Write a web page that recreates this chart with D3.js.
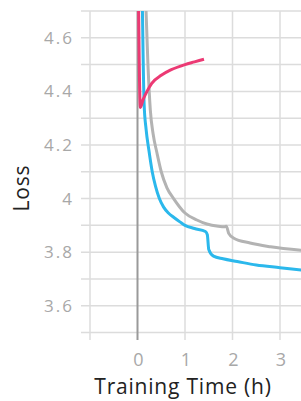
<!DOCTYPE html>
<html>
<head>
<meta charset="utf-8">
<script src="https://cdn.jsdelivr.net/npm/d3@7"></script>
<style>
body{margin:0;background:#fff}
text{font-family:"Open Sans",sans-serif}
</style>
</head>
<body>
<script>
// tick values
var xTicks=[0,1,2,3]
var xGrid=[-1,0,1,2,3]
var yTicks=[3.6,3.8,4,4.2,4.4,4.6]
var yGrid=[3.5,3.6,3.7,3.8,3.9,4,4.1,4.2,4.3,4.4,4.5,4.6,4.7]

// series: hours, loss
var redHours=[0.02,0.06,0.12,0.2,0.3,0.5,0.7,1.0,1.2,1.4]
var redLoss=[4.75,4.34,4.37,4.40,4.43,4.46,4.48,4.50,4.51,4.52]
var blueHours=[0.10,0.14,0.18,0.24,0.31,0.38,0.46,0.55,0.65,0.76,0.9,1.0,1.2,1.43,1.47,1.5,1.6,1.8,2.1,2.5,3.0,3.5]
var blueLoss=[4.75,4.35,4.26,4.18,4.10,4.045,4.0,3.968,3.946,3.93,3.912,3.90,3.888,3.877,3.865,3.81,3.785,3.775,3.765,3.752,3.742,3.732]
var grayHours=[0.17,0.22,0.27,0.33,0.41,0.5,0.62,0.76,1.0,1.25,1.46,1.7,1.84,1.87,1.92,2.02,2.37,2.8,3.5]
var grayLoss=[4.75,4.50,4.33,4.24,4.17,4.10,4.04,4.0,3.946,3.92,3.905,3.897,3.895,3.897,3.87,3.853,3.834,3.82,3.806]

var W=301,H=401
var x=d3.scaleLinear().domain([-1,3]).range([90,280])
var y=d3.scaleLinear().domain([3.5,4.7]).range([332.5,11])

var svg=d3.select("body").append("svg").attr("width",W).attr("height",H)

svg.append("clipPath").attr("id","clip").append("rect")
  .attr("x",90).attr("y",11).attr("width",W-90).attr("height",332.5-11)

// grid
svg.append("g").selectAll("line").data(yGrid).join("line")
  .attr("x1",81).attr("x2",W)
  .attr("y1",d=>y(d)).attr("y2",d=>y(d))
  .attr("stroke","#dcdcdc").attr("stroke-width",1.5)

svg.append("g").selectAll("line").data(xGrid).join("line")
  .attr("x1",d=>x(d)).attr("x2",d=>x(d))
  .attr("y1",y(4.7)).attr("y2",340)
  .attr("stroke",d=>d==0?"#9a9a9a":"#dcdcdc")
  .attr("stroke-width",d=>d==0?2:1.5)

// tick labels
svg.append("g").selectAll("text").data(yTicks).join("text")
  .attr("x",74).attr("y",d=>y(d)+6)
  .attr("text-anchor","end")
  .attr("font-size",17).attr("letter-spacing",2).attr("fill","#a8a8a8")
  .text(d=>d==4?"4":d3.format(".1f")(d))

svg.append("g").selectAll("text").data(xTicks).join("text")
  .attr("x",d=>x(d)+1).attr("y",366)
  .attr("text-anchor","middle")
  .attr("font-size",18).attr("fill","#a8a8a8")
  .text(d=>d)

// axis titles
svg.append("text").attr("x",183).attr("y",394)
  .attr("text-anchor","middle").attr("font-size",21).attr("letter-spacing",0.8).attr("fill","#222")
  .text("Training Time (h)")

svg.append("text").attr("transform","translate(29,188) rotate(-90)")
  .attr("text-anchor","middle").attr("font-size",21).attr("letter-spacing",0.8).attr("fill","#222")
  .text("Loss")

// lines
var line=d3.line().x(d=>x(d[0])).y(d=>y(d[1])).curve(d3.curveMonotoneX)
var plot=svg.append("g").attr("clip-path","url(#clip)")

function draw(hours,loss,color){
  plot.append("path")
    .datum(hours.map((h,i)=>[h,loss[i]]))
    .attr("d",line)
    .attr("fill","none").attr("stroke",color).attr("stroke-width",3)
    .attr("stroke-linejoin","round")
}
draw(grayHours,grayLoss,"#b3b3b3")
draw(blueHours,blueLoss,"#2bb8ec")
draw(redHours,redLoss,"#ec3a74")
</script>
</body>
</html>
